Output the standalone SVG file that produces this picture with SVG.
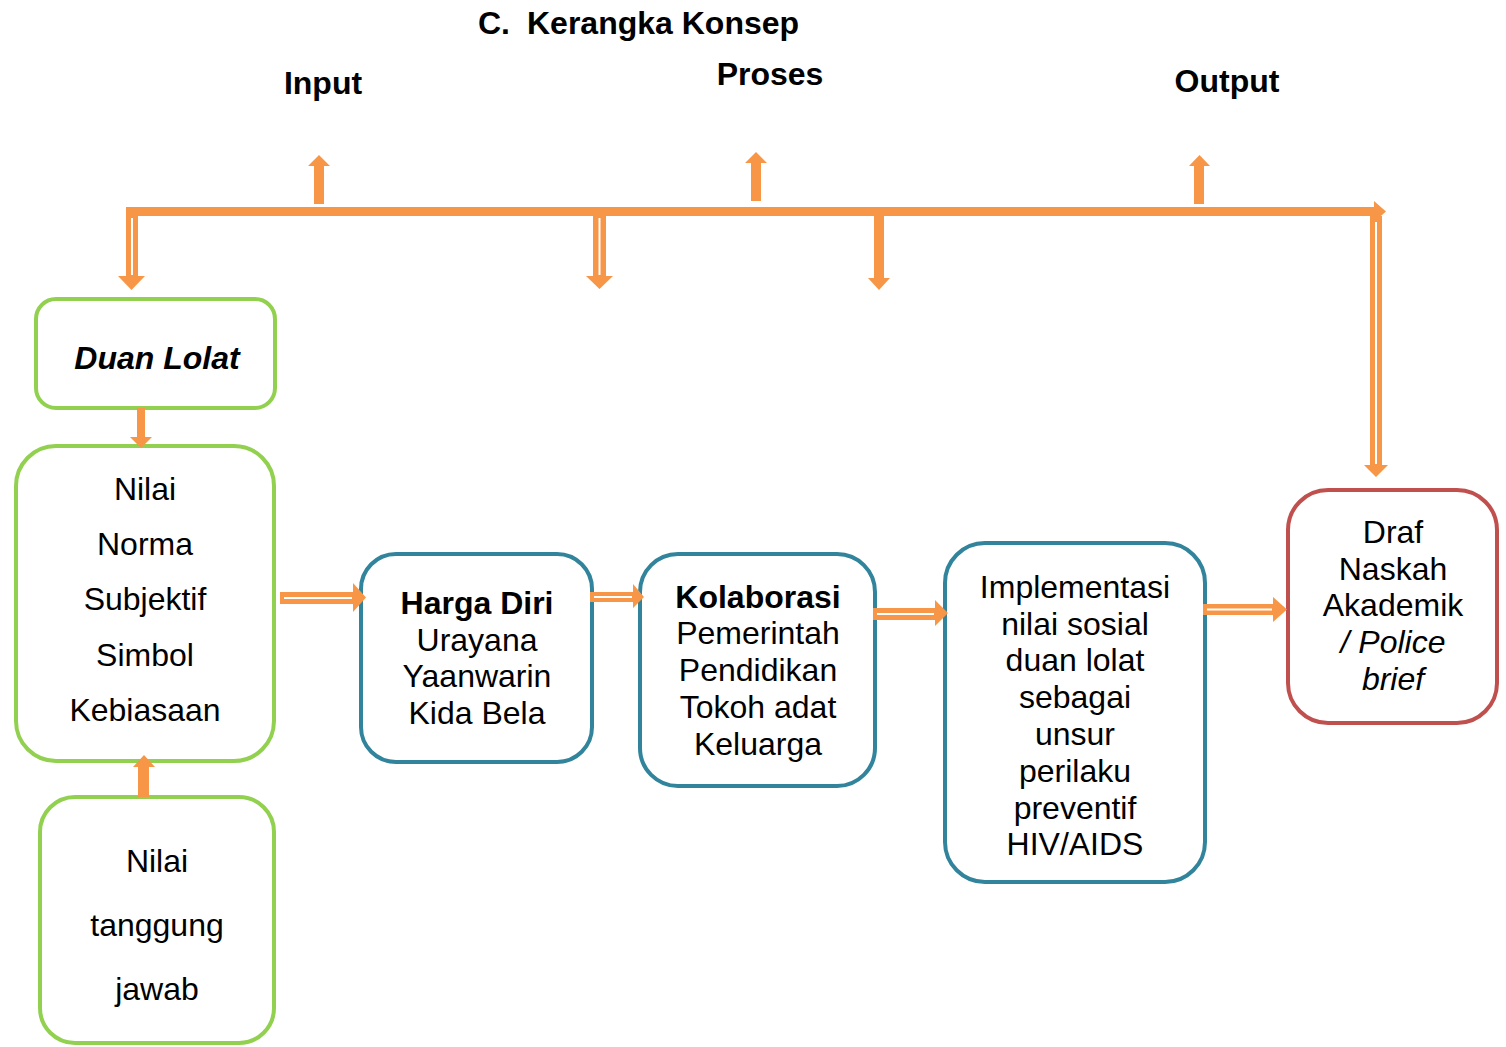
<svg xmlns="http://www.w3.org/2000/svg" width="1506" height="1047" viewBox="0 0 1506 1047">
<style>
text{font-family:"Liberation Sans",Arial,sans-serif;font-size:32px;fill:#000;text-anchor:middle}
.h{font-weight:bold}
.g{fill:#fff;stroke:#92D050;stroke-width:4}
.t{fill:#fff;stroke:#31849B;stroke-width:4}
.r{fill:#fff;stroke:#C0504D;stroke-width:4}
.a{fill:#F79646}
.w{stroke:#fff;stroke-width:2;fill:none}
</style>
<rect width="1506" height="1047" fill="#fff"/>
<g id="labels">
<text class="h" x="478" y="34" style="text-anchor:start">C.<tspan x="527">Kerangka Konsep</tspan></text>
<text class="h" x="323" y="94">Input</text>
<text class="h" x="770" y="85">Proses</text>
<text class="h" x="1227" y="92">Output</text>
</g>
<g id="duan-lolat">
<rect class="g" x="36" y="299" width="239" height="109" rx="20"/>
<text class="h" x="157" y="369" font-style="italic">Duan Lolat</text>
</g>
<g id="nilai-norma">
<rect class="g" x="16" y="446" width="258" height="315" rx="40"/>
<text x="145" y="500">Nilai</text>
<text x="145" y="555">Norma</text>
<text x="145" y="610">Subjektif</text>
<text x="145" y="666">Simbol</text>
<text x="145" y="721">Kebiasaan</text>
</g>
<g id="tanggung-jawab">
<rect class="g" x="40" y="797" width="234" height="246" rx="35"/>
<text x="157" y="872">Nilai</text>
<text x="157" y="936">tanggung</text>
<text x="157" y="1000">jawab</text>
</g>
<g id="harga-diri">
<rect class="t" x="361" y="554" width="231" height="208" rx="35"/>
<text class="h" x="477" y="614">Harga Diri</text>
<text x="477" y="651">Urayana</text>
<text x="477" y="687">Yaanwarin</text>
<text x="477" y="724">Kida Bela</text>
</g>
<g id="kolaborasi">
<rect class="t" x="640" y="554" width="235" height="232" rx="38"/>
<text class="h" x="758" y="608">Kolaborasi</text>
<text x="758" y="644">Pemerintah</text>
<text x="758" y="681">Pendidikan</text>
<text x="758" y="718">Tokoh adat</text>
<text x="758" y="755">Keluarga</text>
</g>
<g id="implementasi">
<rect class="t" x="945" y="543" width="260" height="339" rx="40"/>
<text x="1075" y="598">Implementasi</text>
<text x="1075" y="635">nilai sosial</text>
<text x="1075" y="671">duan lolat</text>
<text x="1075" y="708">sebagai</text>
<text x="1075" y="745">unsur</text>
<text x="1075" y="782">perilaku</text>
<text x="1075" y="819">preventif</text>
<text x="1075" y="855">HIV/AIDS</text>
</g>
<g id="draf">
<rect class="r" x="1288" y="490" width="209" height="233" rx="40"/>
<text x="1393" y="543">Draf</text>
<text x="1393" y="580">Naskah</text>
<text x="1393" y="616">Akademik</text>
<text x="1393" y="653" font-style="italic">/ Police</text>
<text x="1393" y="690" font-style="italic">brief</text>
</g>
<g id="connectors">
<path class="a" d="M126,207H1374V201L1386,211.5L1374,222V216H126Z"/>
<path class="a" d="M126,207H138V276H145L131.5,290L118,276H126Z"/>
<line class="w" x1="132" y1="218" x2="132" y2="275"/>
<path class="a" d="M593,216H606V276H613L599.5,289L586,276H593Z"/>
<line class="w" x1="599.5" y1="218" x2="599.5" y2="275"/>
<path class="a" d="M874,216H884V278H890L879,290L868,278H874Z"/>
<path class="a" d="M1370,216H1382V465H1388L1376,477L1364,465H1370Z"/>
<line class="w" x1="1376" y1="222" x2="1376" y2="464"/>
<path class="a" d="M314,204V166H308L319,155L330,166H324V204Z"/>
<path class="a" d="M751,201V163H745L756,152L767,163H761V201Z"/>
<path class="a" d="M1194,204V166H1189L1199.5,155L1210,166H1204V204Z"/>
<path class="a" d="M137,408H145V437H152L141,448L130,437H137Z"/>
<path class="a" d="M138,797V767H133L144,755L155,767H149V797Z"/>
<path class="a" d="M280,592H353V583L366,597.5L353,612V604H280Z"/>
<line class="w" x1="284" y1="598" x2="352" y2="598"/>
<path class="a" d="M590,592H633V584L644,597L633,608V602H590Z"/>
<line class="w" x1="594" y1="597" x2="632" y2="597"/>
<path class="a" d="M873,608H935V600L948,613L935,626V620H873Z"/>
<line class="w" x1="877" y1="614" x2="934" y2="614"/>
<path class="a" d="M1203,604H1273V597L1287,609.5L1273,622V615H1203Z"/>
<line class="w" x1="1207" y1="609.5" x2="1272" y2="609.5"/>
</g>
</svg>
